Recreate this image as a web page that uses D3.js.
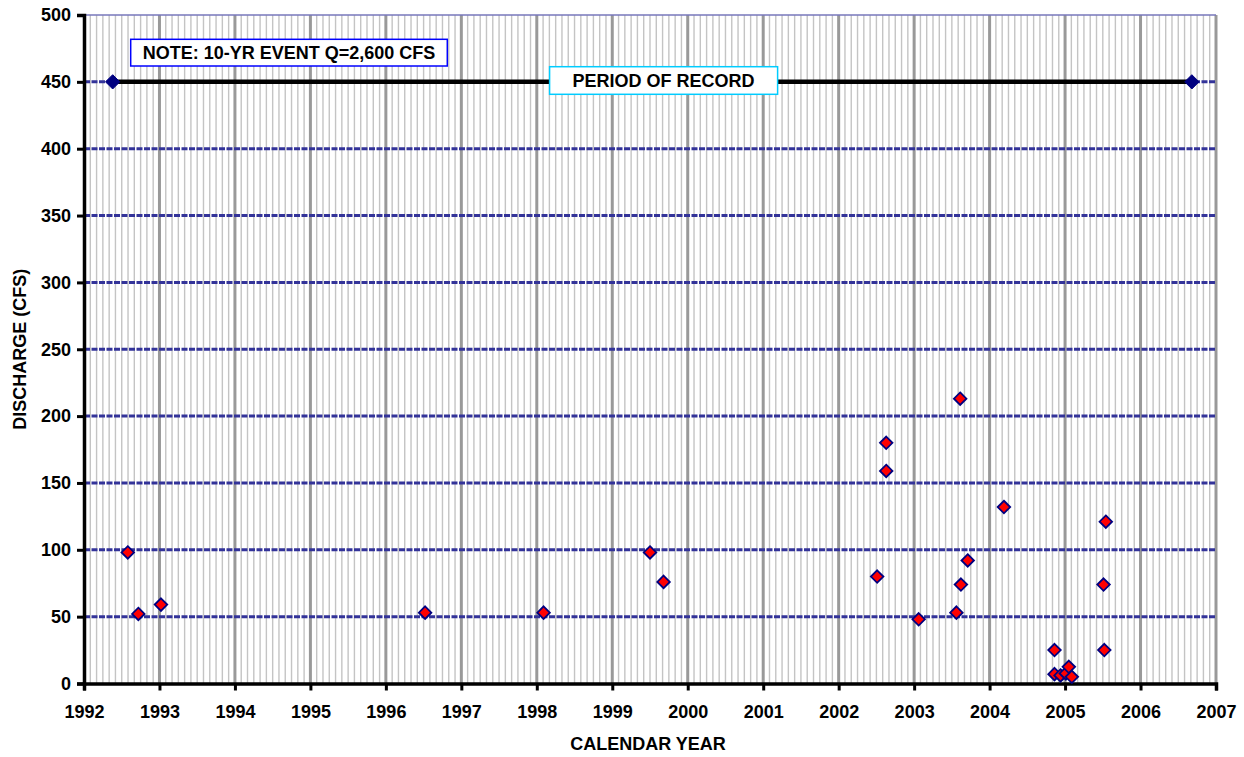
<!DOCTYPE html>
<html>
<head>
<meta charset="utf-8">
<script src="https://cdn.jsdelivr.net/npm/d3@7"></script>
<style>
  html, body { margin: 0; padding: 0; background: #ffffff; }
  svg { display: block; }
  text { font-family: Arial, "Liberation Sans", sans-serif; font-weight: bold; fill: #000; }
</style>
</head>
<body>
<svg id="chart" width="1244" height="757"></svg>
<script>
// ---------- DATA ----------
const sampleYears = [1992.58, 1992.72, 1993.02, 1996.52, 1998.09, 1999.50, 1999.68,
  2002.51, 2002.63, 2002.63, 2003.06, 2003.56, 2003.61, 2003.62, 2003.71, 2004.19,
  2004.86, 2004.86, 2004.94, 2005.01, 2005.05, 2005.09, 2005.51, 2005.52, 2005.54];
const dischargeCfs = [98, 52, 59, 53, 53, 98, 76,
  80, 180, 159, 48, 53, 213, 74, 92, 132,
  25, 7, 6, 7.5, 12.5, 5, 74, 25, 121];
const recordYears = [1992.38, 2006.68];
const recordLevel = [450, 450];
const xTickYears = [1992, 1993, 1994, 1995, 1996, 1997, 1998, 1999, 2000, 2001, 2002, 2003, 2004, 2005, 2006, 2007];
const yTickValues = [0, 50, 100, 150, 200, 250, 300, 350, 400, 450, 500];
const noteText = "NOTE: 10-YR EVENT Q=2,600 CFS";
const recordLabel = "PERIOD OF RECORD";
const xTitle = "CALENDAR YEAR";
const yTitle = "DISCHARGE (CFS)";

// ---------- LAYOUT ----------
const svg = d3.select("#chart");
const pL = 84, pR = 1216, pT = 15, pB = 683.5;
const FS = 18;
const x = d3.scaleLinear().domain([1992, 2007]).range([pL, pR]);
const y = d3.scaleLinear().domain([0, 500]).range([pB, pT]);

// minor monthly vertical gridlines
const minor = [];
for (let yr = 1992; yr < 2007; yr++) for (let m = 1; m < 12; m++) minor.push(yr + m / 12);
svg.append("g").selectAll("line").data(minor).join("line")
  .attr("x1", d => x(d)).attr("x2", d => x(d))
  .attr("y1", y(500)).attr("y2", y(0))
  .attr("stroke", "#c4c4c4").attr("stroke-width", 1.4);

// major yearly vertical gridlines
svg.append("g").selectAll("line").data(xTickYears.slice(1)).join("line")
  .attr("x1", d => x(d)).attr("x2", d => x(d))
  .attr("y1", y(500)).attr("y2", y(0))
  .attr("stroke", "#999999").attr("stroke-width", 3);

// horizontal gridlines
svg.append("g").selectAll("line").data(yTickValues.filter(v => v > 0 && v < 500)).join("line")
  .attr("x1", pL).attr("x2", pR)
  .attr("y1", d => y(d)).attr("y2", d => y(d))
  .attr("stroke", "#333399").attr("stroke-width", 3)
  .attr("stroke-dasharray", "6,1.5");
svg.append("line")
  .attr("x1", pL).attr("x2", pR)
  .attr("y1", y(500)).attr("y2", y(500))
  .attr("stroke", "#7777bb").attr("stroke-width", 1.5);

// axes
const yAxis = d3.axisLeft(y).tickValues(yTickValues).tickSize(7).tickPadding(6);
const gy = svg.append("g").attr("transform", `translate(${pL},0)`).call(yAxis);
gy.select(".domain").attr("stroke", "#000").attr("stroke-width", 3.5);
gy.selectAll(".tick line").attr("stroke", "#000").attr("stroke-width", 3);
gy.selectAll(".tick text").style("font-size", FS + "px").style("font-family", "Arial, 'Liberation Sans', sans-serif").style("font-weight", "bold");

const xAxis = d3.axisBottom(x).tickValues(xTickYears).tickFormat(d3.format("d")).tickSize(7).tickPadding(15);
const gx = svg.append("g").attr("transform", `translate(0,${pB})`).call(xAxis);
gx.select(".domain").attr("stroke", "#000").attr("stroke-width", 3.5);
gx.selectAll(".tick line").attr("stroke", "#000").attr("stroke-width", 3);
gx.selectAll(".tick text").style("font-size", FS + "px").style("font-family", "Arial, 'Liberation Sans', sans-serif").style("font-weight", "bold");

// axis titles
svg.append("text").attr("x", 648).attr("y", 750)
  .attr("text-anchor", "middle").style("font-size", FS + "px").text(xTitle);
svg.append("text").attr("transform", `translate(26,${(pT + pB) / 2}) rotate(-90)`)
  .attr("text-anchor", "middle").style("font-size", FS + "px").text(yTitle);

// period of record line
const line = d3.line().x((d, i) => x(recordYears[i])).y((d, i) => y(recordLevel[i]));
svg.append("path").datum(recordLevel).attr("d", line)
  .attr("fill", "none").attr("stroke", "#000").attr("stroke-width", 4.5);
const diamond = d3.symbol().type(d3.symbolDiamond2);
svg.append("g").selectAll("path").data(recordYears).join("path")
  .attr("transform", (d, i) => `translate(${x(d)},${y(recordLevel[i])})`)
  .attr("d", diamond.size(130)())
  .attr("fill", "#000080").attr("stroke", "#000080").attr("stroke-width", 1);

// measured points
svg.append("g").selectAll("path").data(sampleYears).join("path")
  .attr("transform", (d, i) => `translate(${x(d)},${y(dischargeCfs[i])})`)
  .attr("d", diamond.size(100)())
  .attr("fill", "#ff0000").attr("stroke", "#000080").attr("stroke-width", 1.8);

// note box (left anchored)
{
  const g = svg.append("g");
  const t = g.append("text").attr("x", 142.7).attr("y", 53).attr("dominant-baseline", "central")
    .style("font-size", FS + "px").text(noteText);
  const w = t.node().getComputedTextLength() + 24;
  g.insert("rect", "text").attr("x", 130.7).attr("y", 39.3).attr("width", w).attr("height", 26.7)
    .attr("fill", "#fff").attr("stroke", "#0000ff").attr("stroke-width", 1.5);
}
// period of record box (centred)
{
  const g = svg.append("g");
  const t = g.append("text").attr("x", 663.6).attr("y", 81).attr("text-anchor", "middle")
    .attr("dominant-baseline", "central").style("font-size", FS + "px").text(recordLabel);
  const w = t.node().getComputedTextLength() + 46;
  g.insert("rect", "text").attr("x", 663.6 - w / 2).attr("y", 66.7).attr("width", w).attr("height", 27.6)
    .attr("fill", "#fff").attr("stroke", "#00ccff").attr("stroke-width", 1.5);
}
</script>
</body>
</html>
